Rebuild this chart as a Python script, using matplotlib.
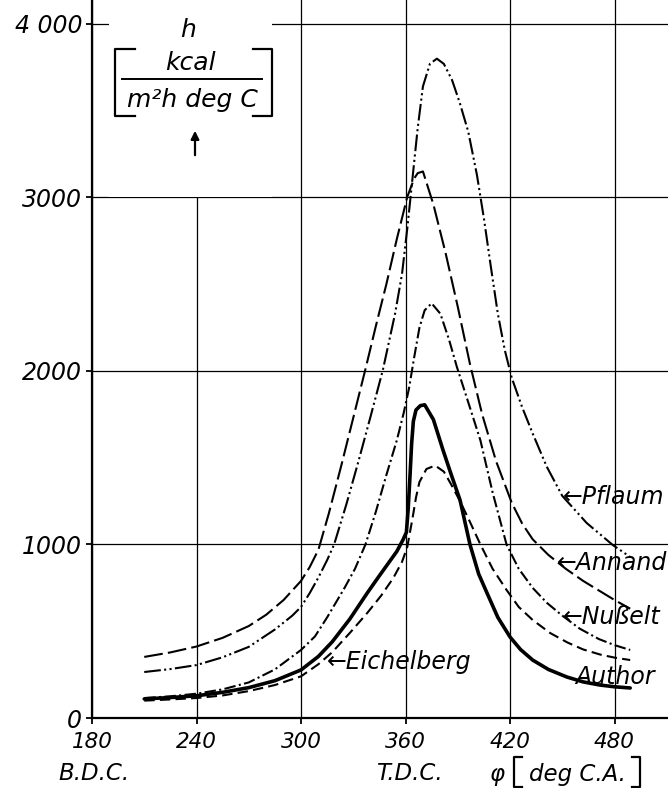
import matplotlib
matplotlib.use("Agg")
import matplotlib.pyplot as plt
from matplotlib.patches import Rectangle, FancyArrowPatch
from matplotlib.lines import Line2D

plt.rcParams['font.family'] = ['DejaVu Sans']
plt.rcParams['font.style'] = 'italic'

# ---------------- data ----------------
phi_pflaum = [210, 225, 240, 255, 270, 285, 295, 300, 305, 310, 315, 319, 326, 333, 340, 347, 354, 358,
              361, 364, 367, 370, 374, 378, 382, 386.7, 391, 396, 401, 405, 409, 413, 417, 421, 427,
              433, 441, 450, 464, 479, 489]
h_pflaum = [265, 282, 305, 350, 410, 510, 590, 640, 720, 810, 910, 1000, 1230, 1480, 1740, 2006, 2330, 2560,
            2820, 3110, 3400, 3640, 3770, 3800, 3770, 3677, 3550, 3380, 3130, 2880, 2600, 2330, 2120, 1960, 1790,
            1640, 1450, 1280, 1124, 997, 928]

phi_annand = [210, 225, 240, 255, 270, 280, 290, 300, 305, 310, 316, 323, 330, 337, 343, 349, 355, 361,
              365, 367, 370, 376, 383, 390, 397, 404, 412, 421, 427, 433, 442, 452, 462, 471, 480, 489]
h_annand = [352, 378, 412, 462, 530, 595, 680, 790, 870, 970, 1180, 1450, 1730, 2011, 2260, 2500, 2760, 3003,
            3110, 3140, 3150, 2960, 2680, 2370, 2040, 1750, 1480, 1240, 1120, 1030, 940, 860, 790, 735, 680, 630]

phi_nusselt = [210, 225, 240, 255, 270, 285, 300, 308, 315, 325, 331, 337, 343, 349, 355, 359, 362, 365,
               368, 371, 375, 380, 385, 389.5, 396, 403, 410, 418, 425, 433, 441, 450, 460, 471, 480, 489]
h_nusselt = [115, 125, 140, 165, 205, 280, 392, 470, 580, 750, 860, 1000, 1190, 1400, 1600, 1760, 1900, 2080,
             2250, 2350, 2390, 2330, 2180, 2023, 1820, 1600, 1300, 1000, 860, 750, 665, 590, 515, 455, 420, 392]

phi_eichelberg = [210, 225, 240, 255, 270, 285, 300, 310, 318, 328, 338, 346, 353, 358, 361, 364, 366,
                  368, 372, 377, 382, 386, 391, 397, 403, 410, 418, 425, 433, 443, 453, 462, 472, 480, 489]
h_eichelberg = [100, 107, 115, 130, 155, 190, 240, 310, 380, 490, 605, 705, 807, 900, 985, 1150, 1270,
                1360, 1435, 1455, 1420, 1350, 1256, 1130, 1000, 860, 738, 640, 565, 490, 435, 395, 365, 348, 334]

phi_author = [210, 225, 240, 255, 270, 285, 300, 310, 318, 328, 338, 345, 350, 355, 358.5, 360.5, 361.5,
              362.6, 363.5, 364.5, 366, 368.5, 371, 376, 381.5, 386, 391.3, 397, 402, 406.8, 413, 420,
              426, 433, 442, 452.7, 462, 471.6, 480, 489]
h_author = [110, 118, 128, 148, 175, 215, 277, 355, 440, 570, 720, 820, 890, 960, 1026, 1070, 1200,
            1400, 1580, 1710, 1775, 1800, 1805, 1720, 1545, 1410, 1256, 1000, 830, 720, 580, 467,
            395, 334, 280, 236, 208, 190, 180, 173]

x_ticks = [180, 240, 300, 360, 420, 480]
x_ticklabels = ['180', '240', '300', '360', '420', '480']
y_ticks = [0, 1000, 2000, 3000, 4000]
y_ticklabels = ['0', '1000', '2000', '3000', '4 000']

# ---------------- figure ----------------
W, H = 668, 788
fig = plt.figure(figsize=(W / 100, H / 100), dpi=100)
ax = fig.add_axes([92 / W, 70 / H, (W - 92) / W, 718 / H])
ax.set_xlim(180, 510.7)
ax.set_ylim(0, 4138)

for s in ['top', 'right']:
    ax.spines[s].set_visible(False)
for s in ['left', 'bottom']:
    ax.spines[s].set_linewidth(1.6)
    ax.spines[s].set_color('black')

ax.set_xticks(x_ticks)
ax.set_xticklabels(x_ticklabels, fontsize=15.5)
ax.set_yticks(y_ticks)
ax.set_yticklabels(y_ticklabels, fontsize=17)
ax.tick_params(axis='both', direction='out', length=4, width=1.3, color='black')
ax.tick_params(axis='x', pad=6)
ax.tick_params(axis='y', pad=3)

ax.set_axisbelow(True)
ax.grid(True, color='black', lw=0.9)

# white area behind the y-axis unit label
ax.add_patch(Rectangle((190, 3005), 93.5, 1300, facecolor='white', edgecolor='none', zorder=1))

lw = 1.5
ax.plot(phi_pflaum, h_pflaum, color='black', lw=lw, dashes=(8, 1.6, 1, 1.6, 1, 1.6), zorder=2)
ax.plot(phi_annand, h_annand, color='black', lw=lw, dashes=(9, 2.5), zorder=2)
ax.plot(phi_nusselt, h_nusselt, color='black', lw=lw, dashes=(5.5, 1.6, 1, 1.6), zorder=2)
ax.plot(phi_eichelberg, h_eichelberg, color='black', lw=lw, dashes=(5, 2.5), zorder=2)
ax.plot(phi_author, h_author, color='black', lw=2.6, solid_capstyle='round',
        solid_joinstyle='round', zorder=3)

# curve labels
lab_kw = dict(fontsize=17, va='center', ha='left', clip_on=False, zorder=4)
ax.text(450.4, 1274, '←Pflaum', **lab_kw)
ax.text(447.0, 893, '←Annand', **lab_kw)
ax.text(450.4, 582, '←Nußelt', **lab_kw)
ax.text(315.0, 323, '←Eichelberg', **lab_kw)
ax.text(457.3, 236, 'Author', **lab_kw)

# ---------------- annotations in pixel coordinates ----------------
def fx(x):
    return x / W

def fy(y):
    return 1 - y / H

def pline(xs, ys, lw=1.6):
    fig.add_artist(Line2D([fx(v) for v in xs], [fy(v) for v in ys], color='black', lw=lw,
                          transform=fig.transFigure))

# y axis unit label
fig.text(fx(188), fy(30), 'h', fontsize=18, ha='center', va='center')
fig.text(fx(190), fy(63), 'kcal', fontsize=18, ha='center', va='center')
pline([122, 262], [79, 79], lw=1.4)
fig.text(fx(192), fy(100), 'm²h deg C', fontsize=18, ha='center', va='center')
pline([135, 115, 115, 135], [49, 49, 116, 116])
pline([253, 272, 272, 253], [49, 49, 116, 116])
fig.add_artist(FancyArrowPatch((fx(195), fy(158)), (fx(195), fy(128)),
                               transform=fig.transFigure, arrowstyle='-|>',
                               mutation_scale=12, color='black', lw=1.6))

# x axis secondary labels
fig.text(fx(94), fy(774), 'B.D.C.', fontsize=16.5, ha='center', va='center')
fig.text(fx(409), fy(774), 'T.D.C.', fontsize=16.5, ha='center', va='center')
fig.text(fx(497), fy(774), 'φ', fontsize=16.5, ha='center', va='center')
fig.text(fx(577), fy(774), 'deg C.A.', fontsize=16.5, ha='center', va='center')
pline([522, 514, 514, 522], [757, 757, 787, 787])
pline([632, 640, 640, 632], [757, 757, 787, 787])

fig.savefig('out.png', dpi=100)
